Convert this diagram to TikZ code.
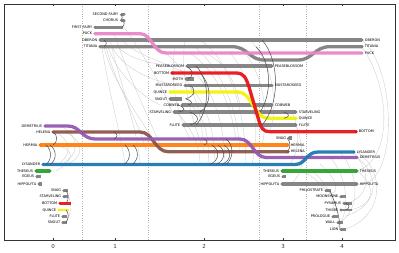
\documentclass[tikz,border=0pt]{standalone}
\usepackage{fontspec}
\newfontfamily\labfont{DejaVu Sans}
\definecolor{cgray}{HTML}{808080}
\definecolor{cpink}{HTML}{E986C8}
\definecolor{cred}{HTML}{E8141A}
\definecolor{cyel}{HTML}{F2F20A}
\definecolor{corange}{HTML}{FF7F0E}
\definecolor{cbrown}{HTML}{8C564B}
\definecolor{cpurple}{HTML}{9459B0}
\definecolor{cblue}{HTML}{1F77B4}
\definecolor{cgreen}{HTML}{2CA02C}
\tikzset{
  lane/.style={line width=3.3pt, draw=cgray, opacity=0.95},
  ll/.style={anchor=east, font=\labfont\fontsize{3.5}{3.7}\selectfont, inner sep=0.6pt, text=black},
  rl/.style={anchor=west, font=\labfont\fontsize{3.5}{3.7}\selectfont, inner sep=0.6pt, text=black},
  thinarc/.style={draw=gray!45, line width=0.3pt},
  darkarc/.style={draw=black!70, line width=0.5pt},
  grid/.style={draw=gray!60, line width=0.4pt, dotted},
  tick/.style={font=\labfont\fontsize{5.5}{6}\selectfont, text=black!80},
}
\begin{document}
\begin{tikzpicture}[x=1pt,y=-1pt]
\useasboundingbox (0,0) rectangle (399,253);
% grid
\foreach \gx in {82,148,259,306} \draw[grid] (\gx,4) -- (\gx,240);
% ---------- light arcs ----------
\begin{scope}[thinarc]
\draw (104,47) .. controls (112,80) and (135,110) .. (150,135);
\draw (106,47) .. controls (116,85) and (138,120) .. (146,150);
\draw (108,47) .. controls (118,75) and (140,95) .. (160,105);
\draw (112,47) .. controls (125,70) and (150,80) .. (175,85);
\draw (118,47) .. controls (130,60) and (155,65) .. (180,66);
\draw (122,40) .. controls (135,55) and (160,60) .. (185,73);
\draw (124,27) .. controls (140,50) and (160,80) .. (172,112);
\draw (102,47) .. controls (108,90) and (120,130) .. (125,164);
\draw (110,40) .. controls (122,90) and (138,130) .. (140,164);
\draw (114,33.7) .. controls (130,80) and (150,120) .. (160,145);
\draw (55,132) .. controls (72,140) and (72,156) .. (58,164);
\draw (60,126) .. controls (80,135) and (80,155) .. (62,164);
\draw (57,145) .. controls (75,150) and (75,160) .. (56,171);
\draw (64,132) .. controls (85,140) and (85,158) .. (66,164.5);
\draw (190,53) .. controls (215,70) and (230,100) .. (236,139);
\draw (195,47) .. controls (222,70) and (238,110) .. (240,152);
\draw (200,40) .. controls (230,60) and (245,110) .. (246,164);
\draw (205,53) .. controls (225,62) and (235,80) .. (240,105);
\draw (185,66) .. controls (210,80) and (225,120) .. (225,164);
\draw (188,85) .. controls (205,100) and (215,130) .. (215,164);
\draw (190,105) .. controls (205,115) and (210,140) .. (208,164);
\draw (176,112) .. controls (190,125) and (200,145) .. (200,164);
\draw (165,53) .. controls (190,70) and (205,120) .. (202,145);
\draw (175,47) .. controls (170,80) and (175,110) .. (190,139);
\draw (185,40) .. controls (180,70) and (190,120) .. (205,152);
\draw (250,40) .. controls (270,60) and (280,100) .. (270,131);
\draw (240,47) .. controls (262,70) and (270,110) .. (262,145);
\draw (230,53) .. controls (250,75) and (262,120) .. (252,164);
\draw (292,112) .. controls (300,130) and (300,150) .. (290,164);
\draw (296,125) .. controls (305,150) and (305,175) .. (290,184);
\draw (362,40) .. controls (398,70) and (398,190) .. (357,184);
\draw (362,47) .. controls (392,90) and (392,160) .. (357,171);
\draw (357,152) .. controls (385,170) and (385,215) .. (346,229);
\draw (357,157) .. controls (380,175) and (380,205) .. (346,216);
\draw (357,171) .. controls (376,185) and (376,205) .. (350,210);
\draw (353,152) .. controls (370,170) and (372,195) .. (348,203);
\draw (340,152) .. controls (360,175) and (360,210) .. (340,222);
\draw (330,157) .. controls (350,180) and (350,215) .. (336,229);
\draw (320,164) .. controls (340,180) and (340,200) .. (326,190);
\draw (312,171) .. controls (330,185) and (335,205) .. (334,216);
\draw (302,171) .. controls (322,180) and (325,195) .. (340,197);
\draw (66,190) .. controls (72,200) and (72,215) .. (66,222);
\end{scope}
% ---------- lanes ----------
% top group
\coordinate (sfA) at (121,14.3); \coordinate (sfB) at (124,14.3);
\coordinate (chA) at (121,20.7); \coordinate (chB) at (124,20.7);
\coordinate (ffA) at (95,27.3); \coordinate (ffB) at (123,27.3);
\coordinate (puA) at (95,33.7); \coordinate (puB) at (362,53);
\coordinate (obA) at (100,40); \coordinate (obB) at (362,40);
\coordinate (tiA) at (100,46.7); \coordinate (tiB) at (362,46.7);
\draw[lane] (sfA) -- (sfB);
\draw[lane] (chA) -- (chB);
\draw[lane] (ffA) -- (ffB);
\draw[lane] (obA) -- (obB);
\draw[lane] (tiA) -- (232,46.7) .. controls (248,46.7) and (249,60) .. (264,60) -- (298,60) .. controls (313,60) and (314,46.7) .. (330,46.7) -- (tiB);
\draw[lane,draw=cpink] (puA) -- (140,33.7) .. controls (152,33.7) and (153,53) .. (166,53) -- (puB);
% fairies / mechanicals
\coordinate (peA) at (187,66); \coordinate (peB) at (272,66);
\coordinate (boA) at (172,73); \coordinate (boB) at (356,131.7);
\coordinate (moA) at (186,79); \coordinate (moB) at (194,79);
\coordinate (muA) at (185,85.5); \coordinate (muB) at (272,85.5);
\coordinate (quA) at (170,92); \coordinate (quB) at (296,118.3);
\coordinate (snA) at (170,99); \coordinate (snB) at (182,99);
\coordinate (coA) at (182,105); \coordinate (coB) at (272,105);
\coordinate (stA) at (174,112); \coordinate (stB) at (296,112);
\coordinate (flA) at (183,125); \coordinate (flB) at (296,125);
\coordinate (sgA) at (289,138); \coordinate (sgB) at (292,138);
\draw[lane] (peA) -- (peB);
\draw[lane] (moA) -- (moB);
\draw[lane] (muA) -- (muB);
\draw[lane] (snA) -- (snB);
\draw[lane] (coA) -- (coB);
\draw[lane] (stA) -- (stB);
\draw[lane] (flA) -- (flB);
\draw[lane] (sgA) -- (sgB);
\draw[lane,draw=cyel] (quA) -- (238,92) .. controls (252,92) and (254,118.3) .. (268,118.3) -- (quB);
\draw[lane,draw=cred] (boA) -- (236,73) .. controls (244,73) and (246,78) .. (249,87) -- (259,121) .. controls (261,128) and (263,131.7) .. (270,131.7) -- (boB);
% lovers
\coordinate (deA) at (45,126); \coordinate (deB) at (357,157.5);
\coordinate (heA) at (53,132); \coordinate (heB) at (288,151.7);
\coordinate (hmA) at (40,145); \coordinate (hmB) at (288,145);
\coordinate (lyA) at (43,164.5); \coordinate (lyB) at (354,152);
\draw[lane,draw=corange] (hmA) -- (hmB);
\draw[lane,draw=cbrown] (heA) -- (140,132) .. controls (153,132) and (155,151.7) .. (168,151.7) -- (heB);
\draw[lane,draw=cpurple] (deA) -- (68,126) .. controls (80,126) and (82,139) .. (95,139) -- (240,139) .. controls (252,139) and (254,157.5) .. (266,157.5) -- (deB);
\draw[lane,draw=cblue] (lyA) -- (295,164.5) .. controls (306,164.5) and (306,152) .. (318,152) -- (lyB);
% court
\coordinate (thA) at (36,171); \coordinate (thB) at (50,171);
\coordinate (egA) at (37,176.7); \coordinate (egB) at (41,176.7);
\coordinate (hiA) at (39,184); \coordinate (hiB) at (42,184);
\draw[lane,draw=cgreen] (thA) -- (thB);
\draw[lane] (egA) -- (egB);
\draw[lane] (hiA) -- (hiB);
\coordinate (th2A) at (282,171); \coordinate (th2B) at (357,171);
\coordinate (eg2A) at (283,176.7); \coordinate (eg2B) at (286,176.7);
\coordinate (hi2A) at (282,184); \coordinate (hi2B) at (357,184);
\draw[lane,draw=cgreen] (th2A) -- (th2B);
\draw[lane] (eg2A) -- (eg2B);
\draw[lane] (hi2A) -- (hi2B);
% act 5 group
\coordinate (phA) at (326,190.7); \coordinate (phB) at (331,190.7);
\coordinate (mnA) at (341,196.7); \coordinate (mnB) at (346,196.7);
\coordinate (pyA) at (344,203.3); \coordinate (pyB) at (352,203.3);
\coordinate (tbA) at (341,210); \coordinate (tbB) at (352,210);
\coordinate (prA) at (333,216.7); \coordinate (prB) at (338,216.7);
\coordinate (waA) at (338,222.7); \coordinate (waB) at (343,222.7);
\coordinate (liA) at (341,229.5); \coordinate (liB) at (346,229.5);
\foreach \a/\b in {phA/phB,mnA/mnB,pyA/pyB,tbA/tbB,prA/prB,waA/waB,liA/liB} \draw[lane,line width=2.6pt] (\a) -- (\b);
% act 1 mechanicals
\coordinate (bsgA) at (64,190.7); \coordinate (bsgB) at (68,190.7);
\coordinate (bstA) at (64,196.7); \coordinate (bstB) at (68,196.7);
\coordinate (bboA) at (60,203.3); \coordinate (bboB) at (71,203.3);
\coordinate (bquA) at (59,210); \coordinate (bquB) at (69,210);
\coordinate (bflA) at (63,216.7); \coordinate (bflB) at (67,216.7);
\coordinate (bsnA) at (63,222.7); \coordinate (bsnB) at (67,222.7);
\foreach \a/\b in {bsgA/bsgB,bstA/bstB,bflA/bflB,bsnA/bsnB} \draw[lane,line width=2.6pt] (\a) -- (\b);
\draw[lane,line width=2.6pt,draw=cred] (bboA) -- (bboB);
\draw[lane,line width=2.6pt,draw=cyel] (bquA) -- (bquB);
% ---------- dark arcs ----------
\begin{scope}[darkarc]
\draw (53,132) .. controls (58,135) and (58,142) .. (53,145);
\draw (46,145) .. controls (52,150) and (52,160) .. (46,164.5);
\draw (50,145) .. controls (57,150) and (57,160) .. (50,164.5);
\draw (114,132) .. controls (118,134) and (118,137) .. (114,139);
\draw (125,145) .. controls (131,150) and (131,160) .. (124,164.5);
\draw (133,145) .. controls (139,150) and (139,160) .. (132,164.5);
\draw (204,139) .. controls (208,141) and (208,144) .. (204,145);
\draw (212,145) .. controls (220,150) and (220,160) .. (210,164.5);
\draw (218,145) .. controls (226,150) and (226,160) .. (216,164.5);
\draw (224,145) .. controls (232,150) and (232,160) .. (222,164.5);
\draw (226,139) .. controls (234,145) and (234,158) .. (226,164.5);
\draw (186,66) .. controls (194,70) and (194,76) .. (188,79);
\draw (190,85.5) .. controls (196,89) and (196,96) .. (185,99);
\draw (186,99) .. controls (193,101) and (193,104) .. (188,105);
\draw (178,105) .. controls (186,108) and (186,111) .. (178,112);
\draw (190,112) .. controls (200,116) and (200,122) .. (190,125);
\draw (196,66) .. controls (210,80) and (210,110) .. (196,125);
\draw (200,73) .. controls (212,85) and (212,105) .. (200,112);
\draw (262,40) .. controls (280,60) and (280,105) .. (262,125);
\draw (256,46.7) .. controls (272,62) and (272,95) .. (260,112);
\draw (284,112) .. controls (290,114) and (290,117) .. (284,118.3);
\draw (287,138) .. controls (291,142) and (291,148) .. (287,151.7);
\draw (66,190.7) .. controls (69,194) and (69,200) .. (66,203.3);
\draw (66,210) .. controls (69,213) and (69,217) .. (66,222.7);
\draw (346,203.3) .. controls (350,205) and (350,208) .. (346,210);
\draw (330,190.7) .. controls (334,200) and (340,215) .. (340,229.5);
\draw (120,14.3) .. controls (123,16) and (123,19) .. (120,20.7);
\draw (122,20.7) .. controls (125,22) and (125,25) .. (122,27.3);
\draw (104,40) .. controls (107,42) and (107,45) .. (104,46.7);
\end{scope}
% ---------- markers ----------
\foreach \c in {sfB,chB,ffA,obA,tiA,obB,tiB,peA,peB,moA,muA,muB,snA,coA,coB,stA,stB,flA,flB,sgA,heB,hmB,egA,hiA,eg2A,hi2A,hi2B,phA,mnA,pyA,tbA,prA,waA,liA,bsgA,bstA,bflA,bsnA}
  \fill[cgray] (\c) circle (1.7pt);
\fill[cpink] (puA) circle (1.7pt); \fill[cpink] (puB) circle (1.7pt);
\fill[cred] (boA) circle (1.8pt); \fill[cred] (boB) circle (1.8pt); \fill[cred] (bboA) circle (1.6pt);
\fill[cyel] (quA) circle (1.7pt); \fill[cyel] (quB) circle (1.7pt); \fill[cyel] (bquA) circle (1.6pt);
\fill[cpurple] (deA) circle (1.7pt); \fill[cpurple] (deB) circle (1.7pt);
\fill[cbrown] (heA) circle (1.7pt); \fill[cbrown] (heB) circle (1.7pt);
\fill[corange] (hmA) circle (1.7pt); \fill[corange] (hmB) circle (1.7pt);
\fill[cblue] (lyA) circle (1.7pt); \fill[cblue] (lyB) circle (1.7pt);
\fill[cgreen] (thA) circle (1.7pt); \fill[cgreen] (thB) circle (1.7pt);
\fill[cgreen] (th2A) circle (1.7pt); \fill[cgreen] (th2B) circle (1.7pt);
% ---------- labels ----------
\node[ll] (l1) at (119,14.3) {SECOND FAIRY};
\node[ll] (l2) at (119,20.7) {CHORUS};
\node[ll] (l3) at (93,27.3) {FIRST FAIRY};
\node[ll] (l4) at (93,33.7) {PUCK};
\node[ll] (l5) at (98,40) {OBERON};
\node[ll] (l6) at (98,46.7) {TITANIA};
\node[rl] (r1) at (364,40) {OBERON};
\node[rl] (r2) at (364,46.7) {TITANIA};
\node[rl] (r3) at (364,53) {PUCK};
\node[ll] (l7) at (185,66) {PEASEBLOSSOM};
\node[ll] (l8) at (170,73) {BOTTOM};
\node[ll] (l9) at (184,79) {MOTH};
\node[ll] (l10) at (183,85.5) {MUSTARDSEED};
\node[ll] (l11) at (168,92) {QUINCE};
\node[ll] (l12) at (168,99) {SNOUT};
\node[ll] (l13) at (180,105) {COBWEB};
\node[ll] (l14) at (172,112) {STARVELING};
\node[ll] (l15) at (181,125) {FLUTE};
\node[rl] (r4) at (274,66) {PEASEBLOSSOM};
\node[rl] (r5) at (274,85.5) {MUSTARDSEED};
\node[rl] (r6) at (274,105) {COBWEB};
\node[rl] (r7) at (298,112) {STARVELING};
\node[rl] (r8) at (298,118.3) {QUINCE};
\node[rl] (r9) at (298,125) {FLUTE};
\node[rl] (r10) at (358,131.7) {BOTTOM};
\node[ll] (l16) at (287,138) {SNUG};
\node[rl] (r11) at (290,145) {HERMIA};
\node[rl] (r12) at (290,151.7) {HELENA};
\node[rl] (r13) at (356,152) {LYSANDER};
\node[rl] (r14) at (359,157.5) {DEMETRIUS};
\node[rl] (r15) at (359,171) {THESEUS};
\node[rl] (r16) at (359,184) {HIPPOLYTA};
\node[ll] (l17) at (43,126) {DEMETRIUS};
\node[ll] (l18) at (51,132) {HELENA};
\node[ll] (l19) at (38,145) {HERMIA};
\node[ll] (l20) at (41,164.5) {LYSANDER};
\node[ll] (l21) at (34,171) {THESEUS};
\node[ll] (l22) at (35,176.7) {EGEUS};
\node[ll] (l23) at (37,184) {HIPPOLYTA};
\node[ll] (l24) at (280,171) {THESEUS};
\node[ll] (l25) at (281,176.7) {EGEUS};
\node[ll] (l26) at (280,184) {HIPPOLYTA};
\node[ll] (l27) at (324,190.7) {PHILOSTRATE};
\node[ll] (l28) at (339,196.7) {MOONSHINE};
\node[ll] (l29) at (342,203.3) {PYRAMUS};
\node[ll] (l30) at (339,210) {THISBE};
\node[ll] (l31) at (331,216.7) {PROLOGUE};
\node[ll] (l32) at (336,222.7) {WALL};
\node[ll] (l33) at (339,229.5) {LION};
\node[ll] (l34) at (62,190.7) {SNUG};
\node[ll] (l35) at (62,196.7) {STARVELING};
\node[ll] (l36) at (58,203.3) {BOTTOM};
\node[ll] (l37) at (57,210) {QUINCE};
\node[ll] (l38) at (61,216.7) {FLUTE};
\node[ll] (l39) at (61,222.7) {SNOUT};
% ---------- axes ----------
\draw[black!80, line width=0.7pt] (4,4) rectangle (395,240.5);
\foreach \tx/\tl in {53/0,115/1,204/2,283/3,342/4} {
  \draw[black!80, line width=0.5pt] (\tx,4) -- (\tx,6.5);
  \draw[black!80, line width=0.5pt] (\tx,240.5) -- (\tx,238);
  \node[tick] (t\tl) at (\tx,246.5) {\tl};
}
\end{tikzpicture}
\end{document}
